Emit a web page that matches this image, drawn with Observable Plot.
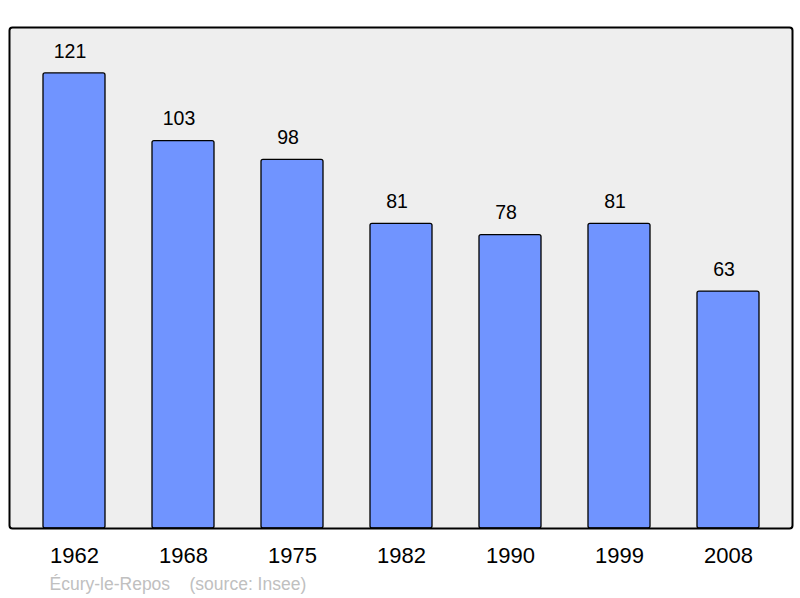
<!DOCTYPE html>
<html>
<head>
<meta charset="utf-8">
<script src="https://cdn.jsdelivr.net/npm/d3@7"></script>
<script src="https://cdn.jsdelivr.net/npm/@observablehq/plot@0.6"></script>
<style>
  html, body { margin: 0; padding: 0; background: #fff; }
  svg { display: block; }
</style>
</head>
<body>
<div id="chart"></div>
<script>
const years = ["1962", "1968", "1975", "1982", "1990", "1999", "2008"];
const population = [121, 103, 98, 81, 78, 81, 63];
const captionText = "Écury-le-Repos    (source: Insee)";

const data = years.map((y, i) => ({year: y, value: population[i]}));

const chart = Plot.plot({
  width: 800,
  height: 598,
  marginTop: 27,
  marginBottom: 70,
  marginLeft: 9,
  marginRight: 8,
  style: {fontFamily: "'Liberation Sans', Arial, sans-serif", background: "#fff"},
  x: {domain: years, range: [16.5, 786], paddingInner: 0.433, paddingOuter: 0.2165, axis: null},
  y: {domain: [0, 133.2], axis: null},
  marks: [
    Plot.frame({fill: "#eeeeee", stroke: "none", rx: 3}),
    Plot.barY(data, {x: "year", y: "value", fill: "#7094ff", stroke: "#000", strokeWidth: 1.3, rx: 2}),
    Plot.frame({stroke: "#000", strokeWidth: 2, rx: 3}),
    Plot.text(data, {x: "year", y: "value", text: d => String(d.value), dy: -22, dx: -4.5, fontSize: 19.5, fill: "#000", textAnchor: "middle"}),
    Plot.text(data, {x: "year", text: "year", frameAnchor: "bottom", dy: 34, fontSize: 22, fill: "#000"}),
    Plot.text([captionText], {text: d => d, frameAnchor: "bottom-left", dx: 40, dy: 61, fontSize: 17.5, fill: "#c0c0c0", textAnchor: "start"})
  ]
});
chart.querySelectorAll("text").forEach(t => t.setAttribute("xml:space", "preserve"));
chart.style.whiteSpace = "pre";
document.getElementById("chart").appendChild(chart);
</script>
</body>
</html>
